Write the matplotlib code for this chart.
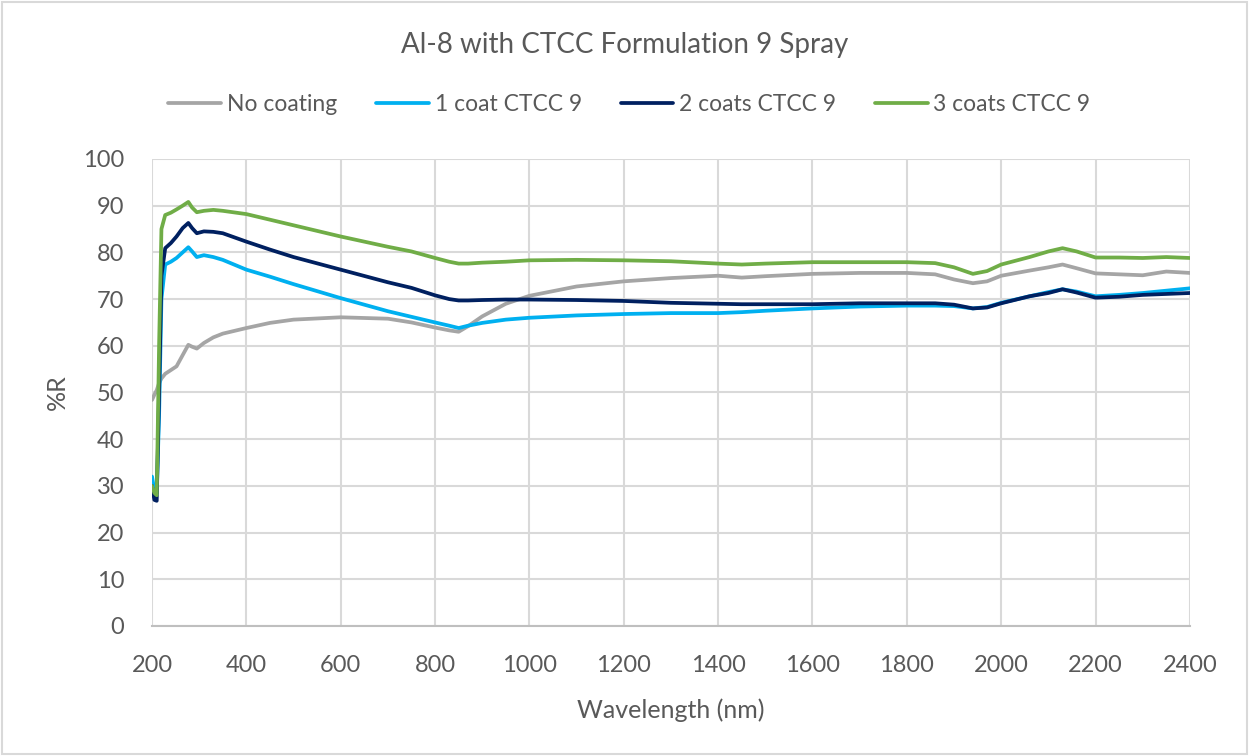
import matplotlib

matplotlib.use("Agg")
import matplotlib.pyplot as plt
from matplotlib.patches import Rectangle

# ---- style ----
TEXT = "#595959"
GRID = "#D9D9D9"
AXIS = "#BFBFBF"
COLORS = ["#A5A5A5", "#00B0F0", "#002060", "#70AD47"]
LABELS = ["No coating", "1 coat CTCC 9", "2 coats CTCC 9", "3 coats CTCC 9"]

# ---- data: reflectance (%R) vs wavelength (nm) ----
WAVELENGTH = [200, 205, 210, 215, 220, 228, 240, 252, 265, 277, 285, 295, 310,
              330, 350, 400, 450, 500, 600, 700, 750, 800, 830, 850, 870, 900,
              950, 1000, 1100, 1200, 1300, 1400, 1450, 1500, 1600, 1700, 1800,
              1860, 1900, 1940, 1970, 2000, 2060, 2100, 2130, 2160, 2200, 2250,
              2300, 2350, 2400]

NO_COATING = [48.4, 49.5, 50.5, 52.0, 53.0, 54.0, 54.8, 55.6, 58.0, 60.2, 59.8,
              59.4, 60.6, 61.8, 62.6, 63.8, 64.9, 65.6, 66.1, 65.8, 65.0, 63.9,
              63.3, 63.0, 64.2, 66.3, 69.0, 70.7, 72.7, 73.8, 74.5, 75.0, 74.6,
              74.9, 75.4, 75.6, 75.6, 75.3, 74.2, 73.4, 73.8, 75.0, 76.1, 76.8,
              77.4, 76.6, 75.5, 75.3, 75.1, 75.9, 75.6]

ONE_COAT = [32.0, 29.0, 28.5, 45.0, 70.0, 77.4, 78.0, 78.8, 80.0, 81.1, 80.2,
            79.0, 79.4, 79.0, 78.4, 76.3, 74.8, 73.2, 70.2, 67.4, 66.2, 65.0,
            64.3, 63.8, 64.3, 64.9, 65.6, 66.0, 66.5, 66.8, 67.0, 67.0, 67.2,
            67.5, 68.0, 68.4, 68.6, 68.6, 68.5, 68.0, 68.3, 69.2, 70.6, 71.5,
            72.1, 71.6, 70.6, 70.9, 71.3, 71.8, 72.3]

TWO_COATS = [30.0, 27.0, 26.8, 50.0, 75.0, 80.9, 82.0, 83.4, 85.2, 86.3, 85.2,
             84.1, 84.5, 84.4, 84.1, 82.3, 80.6, 79.0, 76.3, 73.6, 72.4, 70.8,
             70.0, 69.7, 69.7, 69.8, 69.9, 69.9, 69.8, 69.6, 69.2, 69.0, 68.9,
             68.9, 68.9, 69.1, 69.1, 69.1, 68.8, 68.0, 68.2, 69.1, 70.6, 71.3,
             72.1, 71.4, 70.3, 70.5, 70.9, 71.1, 71.3]

THREE_COATS = [30.0, 28.5, 28.0, 60.0, 85.0, 88.0, 88.5, 89.2, 90.0, 90.8, 89.6,
               88.6, 88.9, 89.1, 88.9, 88.2, 87.0, 85.8, 83.4, 81.2, 80.2, 78.8,
               78.0, 77.6, 77.6, 77.8, 78.0, 78.3, 78.4, 78.3, 78.1, 77.6, 77.4,
               77.6, 77.9, 77.9, 77.9, 77.7, 76.8, 75.4, 76.0, 77.4, 79.0, 80.2,
               80.9, 80.2, 78.9, 78.9, 78.8, 79.0, 78.8]

SERIES = [NO_COATING, ONE_COAT, TWO_COATS, THREE_COATS]

plt.rcParams["font.family"] = ["Lato", "DejaVu Sans"]

fig = plt.figure(figsize=(12.49, 7.56), dpi=100)
ax = fig.add_axes([0.1217, 0.172, 0.831, 0.6177])

for vals, color, label in zip(SERIES, COLORS, LABELS):
    ax.plot(WAVELENGTH, vals, color=color, lw=2.7, label=label,
            solid_joinstyle="round", solid_capstyle="round")

ax.set_xlim(200, 2400)
ax.set_ylim(0, 100)
ax.set_xticks(range(200, 2401, 200))
ax.set_yticks(range(0, 101, 10))
ax.grid(True, color=GRID, lw=1.5)
ax.set_axisbelow(True)
for spine in ax.spines.values():
    spine.set_visible(False)
ax.spines["bottom"].set_visible(True)
ax.spines["bottom"].set_color(AXIS)
ax.spines["bottom"].set_linewidth(1.5)
ax.tick_params(colors=TEXT, labelsize=17, length=0)
ax.tick_params(axis="x", pad=21)
ax.tick_params(axis="y", pad=20)

ax.set_xlabel("Wavelength (nm)", color=TEXT, fontsize=18, labelpad=16)
ax.set_ylabel("%R", color=TEXT, fontsize=18, labelpad=10)

fig.text(0.5, 0.94, "Al-8 with CTCC Formulation 9 Spray", ha="center",
         va="center", color=TEXT, fontsize=20)

leg = fig.legend(loc="center", bbox_to_anchor=(0.504, 0.862), ncol=4,
                 frameon=False, fontsize=16.5, handlelength=2.3,
                 handletextpad=0.25, columnspacing=1.7)
for txt in leg.get_texts():
    txt.set_color(TEXT)

# chart border
fig.patches.append(Rectangle((0.002, 0.002), 0.996, 0.996,
                             transform=fig.transFigure, fill=False,
                             edgecolor=GRID, lw=1.5))

fig.savefig("out.png", dpi=100, facecolor="white")
